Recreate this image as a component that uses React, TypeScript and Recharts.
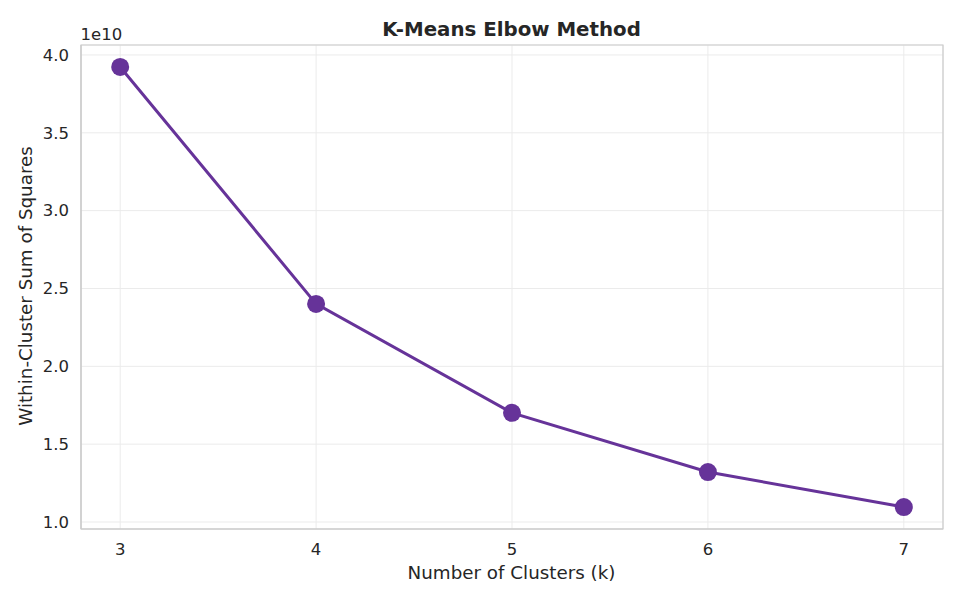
import React from 'react';
import {
  LineChart,
  Line,
  XAxis,
  YAxis,
  CartesianGrid,
  ReferenceArea,
  Label,
} from 'recharts';

const clusters = [3, 4, 5, 6, 7];
const wcss = [3.923e10, 2.401e10, 1.701e10, 1.321e10, 1.096e10];
const xTicks = [3, 4, 5, 6, 7];
const yTicks = [1.0e10, 1.5e10, 2.0e10, 2.5e10, 3.0e10, 3.5e10, 4.0e10];

const X_DOMAIN: [number, number] = [2.8, 7.2];
const Y_DOMAIN: [number, number] = [0.955e10, 4.064e10];

const FONT = '"DejaVu Sans", sans-serif';
const INK = '#262626';
const PURPLE = '#663399';

const data = clusters.map((k, i) => ({ k, wcss: wcss[i] }));

export default function App() {
  return (
    <div style={{ position: 'absolute', left: 0, top: 0, fontFamily: FONT }}>
      <LineChart
        width={960}
        height={600}
        data={data}
        margin={{ top: 45, right: 17, bottom: 0, left: 0 }}
      >
        <CartesianGrid stroke="#ebebeb" strokeWidth={1} />
        <ReferenceArea
          x1={X_DOMAIN[0]}
          x2={X_DOMAIN[1]}
          y1={Y_DOMAIN[0]}
          y2={Y_DOMAIN[1]}
          fill="none"
          fillOpacity={0}
          stroke="#cccccc"
          strokeWidth={1.2}
        />
        <XAxis
          dataKey="k"
          type="number"
          domain={X_DOMAIN}
          ticks={xTicks}
          allowDataOverflow
          height={71}
          tickSize={0}
          tickMargin={14}
          tickLine={false}
          axisLine={{ stroke: '#cccccc', strokeWidth: 1.2 }}
          tick={{ fontSize: 16.5, fill: INK, fontFamily: FONT }}
        >
          <Label
            content={() => (
              <text
                x={511.5}
                y={579}
                textAnchor="middle"
                fontSize={18.3}
                fill={INK}
                fontFamily={FONT}
              >
                Number of Clusters (k)
              </text>
            )}
          />
          <Label
            content={() => (
              <text
                x={511.5}
                y={36}
                textAnchor="middle"
                fontSize={19.8}
                fontWeight="bold"
                fill={INK}
                fontFamily={FONT}
              >
                K-Means Elbow Method
              </text>
            )}
          />
        </XAxis>
        <YAxis
          type="number"
          domain={Y_DOMAIN}
          ticks={yTicks}
          allowDataOverflow
          width={81}
          tickSize={0}
          tickMargin={12}
          tickLine={false}
          axisLine={{ stroke: '#cccccc', strokeWidth: 1.2 }}
          tick={{ fontSize: 16.5, fill: INK, fontFamily: FONT }}
          tickFormatter={(v: number) => (v / 1e10).toFixed(1)}
        >
          <Label
            content={() => (
              <text
                x={31.5}
                y={286}
                transform="rotate(-90 31.5 286)"
                textAnchor="middle"
                fontSize={18.3}
                fill={INK}
                fontFamily={FONT}
              >
                Within-Cluster Sum of Squares
              </text>
            )}
          />
          <Label
            content={() => (
              <text x={80.5} y={40} fontSize={16.5} fill={INK} fontFamily={FONT}>
                1e10
              </text>
            )}
          />
        </YAxis>
        <Line
          dataKey="wcss"
          stroke={PURPLE}
          strokeWidth={3}
          dot={{ r: 9, fill: PURPLE, stroke: PURPLE, strokeWidth: 0 }}
          activeDot={false}
          isAnimationActive={false}
        />
      </LineChart>
    </div>
  );
}
